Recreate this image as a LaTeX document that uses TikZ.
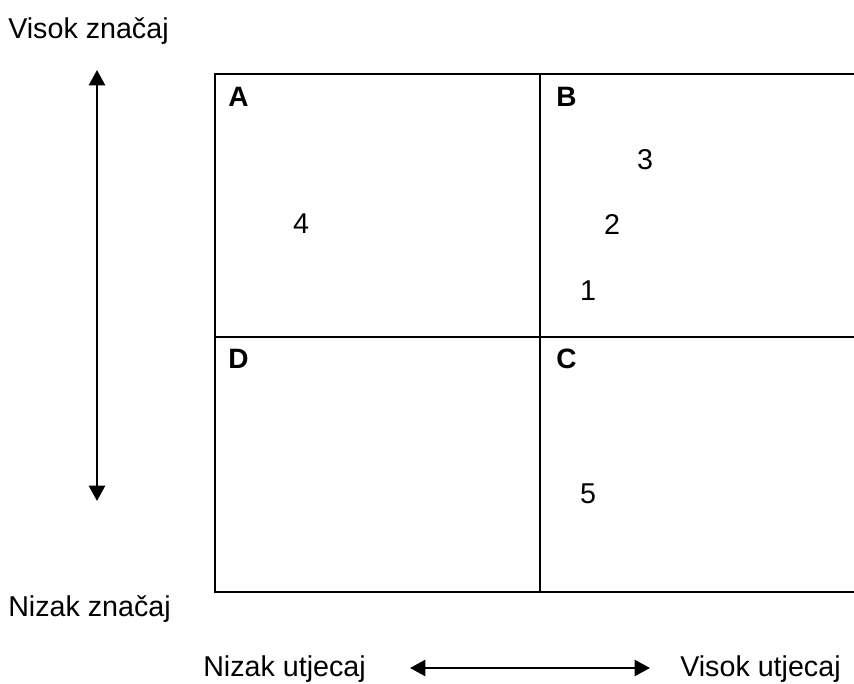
\documentclass[tikz,border=0pt]{standalone}
\usepackage{fontspec}
\setmainfont{Liberation Sans}
\usetikzlibrary{arrows.meta}
\begin{document}
\begin{tikzpicture}[x=0.75pt,y=-0.75pt,
  txt/.style={font=\fontsize{21.5}{25}\selectfont, inner sep=0pt},
  lbl/.style={font=\fontsize{21}{25}\selectfont\bfseries, inner sep=0pt, anchor=west},
  gridline/.style={line width=2.1pt},
  dblarrow/.style={line width=1.9pt, {Triangle[length=11.5pt,width=12pt]}-{Triangle[length=11.5pt,width=12pt]}}]
\useasboundingbox (0,0) rectangle (854,684);
% grid
\coordinate (tl) at (215,74);
\coordinate (tr) at (860,74);
\coordinate (bl) at (215,592);
\coordinate (br) at (860,592);
\coordinate (mt) at (540,74);
\coordinate (mb) at (540,592);
\coordinate (ml) at (215,337);
\coordinate (mr) at (860,337);
\draw[gridline] (tr) -- (tl) -- (bl) -- (br);
\draw[gridline] (mt) -- (mb);
\draw[gridline] (ml) -- (mr);
% quadrant labels
\node[lbl] (A) at (228,97) {A};
\node[lbl] (B) at (556,97) {B};
\node[lbl] (D) at (228,359) {D};
\node[lbl] (C) at (556,359) {C};
% numbers
\node[txt] (n3) at (645,160) {3};
\node[txt] (n2) at (612,224) {2};
\node[txt] (n4) at (301,224) {4};
\node[txt] (n1) at (588,291) {1};
\node[txt] (n5) at (588,494) {5};
% axis labels
\node[txt, anchor=west] (vz) at (8,31) {Visok značaj};
\node[txt, anchor=west] (nz) at (8,609) {Nizak značaj};
\node[txt, anchor=west] (nu) at (203,669) {Nizak utjecaj};
\node[txt, anchor=west] (vu) at (680,669) {Visok utjecaj};
% arrows
\coordinate (vtop) at (97,70);
\coordinate (vbot) at (97,501);
\coordinate (hl) at (410,668);
\coordinate (hr) at (650,668);
\draw[dblarrow] (vtop) -- (vbot);
\draw[dblarrow] (hl) -- (hr);
\end{tikzpicture}
\end{document}
